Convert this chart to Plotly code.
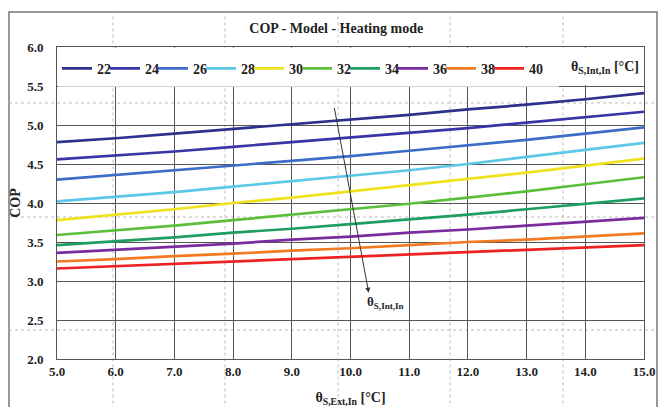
import plotly.graph_objects as go

x_ext = [5, 6, 7, 8, 9, 10, 11, 12, 13, 14, 15]
series_names = ["22", "24", "26", "28", "30", "32", "34", "36", "38", "40"]
cop_22 = [4.78, 4.83, 4.89, 4.95, 5.01, 5.07, 5.13, 5.20, 5.26, 5.33, 5.41]
cop_24 = [4.56, 4.61, 4.66, 4.72, 4.78, 4.84, 4.90, 4.96, 5.03, 5.10, 5.17]
cop_26 = [4.30, 4.36, 4.42, 4.48, 4.54, 4.60, 4.67, 4.74, 4.81, 4.89, 4.97]
cop_28 = [4.02, 4.08, 4.14, 4.21, 4.28, 4.35, 4.42, 4.50, 4.59, 4.68, 4.77]
cop_30 = [3.78, 3.85, 3.92, 4.00, 4.07, 4.15, 4.23, 4.31, 4.39, 4.48, 4.57]
cop_32 = [3.59, 3.65, 3.71, 3.78, 3.85, 3.92, 3.99, 4.07, 4.15, 4.24, 4.33]
cop_34 = [3.46, 3.51, 3.56, 3.62, 3.67, 3.73, 3.79, 3.85, 3.92, 3.99, 4.06]
cop_36 = [3.36, 3.40, 3.44, 3.48, 3.53, 3.57, 3.62, 3.66, 3.71, 3.76, 3.81]
cop_38 = [3.25, 3.28, 3.32, 3.35, 3.39, 3.42, 3.46, 3.50, 3.53, 3.57, 3.61]
cop_40 = [3.16, 3.19, 3.22, 3.25, 3.28, 3.31, 3.34, 3.37, 3.40, 3.43, 3.46]
series_values = [cop_22, cop_24, cop_26, cop_28, cop_30, cop_32, cop_34, cop_36, cop_38, cop_40]
colors = ["#2b318c", "#3a35a6", "#3d6cc8", "#5cc8e6", "#eee21c",
          "#5cbf3c", "#1f9e62", "#7a2c9e", "#f27a22", "#ee2222"]

x_ticks = [5, 6, 7, 8, 9, 10, 11, 12, 13, 14, 15]
y_ticks = [2.0, 2.5, 3.0, 3.5, 4.0, 4.5, 5.0, 5.5, 6.0]

FONT = "Liberation Serif, Times New Roman, serif"
W, H = 650, 399   # page body has an 8px margin
L, R, T, B = 49, 14, 39, 48
PW, PH = W - L - R, H - T - B
fig = go.Figure()
for name, vals, col in zip(series_names, series_values, colors):
    fig.add_trace(go.Scatter(x=x_ext, y=vals, mode="lines", name="<b>" + name + "</b>",
                             line=dict(color=col, width=2.7)))
# invisible spacer entry so the last legend label is not clipped
fig.add_trace(go.Scatter(x=[None], y=[None], mode="lines", name=" ",
                         line=dict(color="rgba(0,0,0,0)", width=0), hoverinfo="skip"))

grid = "#555555"
fig.update_layout(
    width=W, height=H,
    margin=dict(l=L, r=R, t=T, b=B),
    paper_bgcolor="white", plot_bgcolor="white",
    font=dict(family=FONT, size=12, color="#222"),
    title=dict(text="<b>COP - Model - Heating mode</b>", x=0.505, xanchor="center",
               y=1 - 20 / H, yanchor="middle", font=dict(size=14, family=FONT)),
    showlegend=True,
    legend=dict(orientation="h", x=0.0, xanchor="left", y=0.93, yanchor="middle",
                bgcolor="rgba(0,0,0,0)", entrywidth=3, entrywidthmode="pixels",
                font=dict(family=FONT, size=14, color="#222"),
                itemwidth=30, tracegroupgap=0),
    xaxis=dict(range=[5, 15], tickvals=x_ticks, tickformat=".1f", automargin=False,
               showgrid=True, gridcolor=grid, gridwidth=1,
               showline=True, linecolor=grid, linewidth=1, mirror=True,
               ticks="", zeroline=False,
               tickfont=dict(family=FONT, size=13, color="#222", weight="bold"),
               title=dict(text="<b>θ<sub>S,Ext,In</sub> [°C]</b>", standoff=19,
                          font=dict(family=FONT, size=14))),
    yaxis=dict(range=[2, 6], tickvals=y_ticks, tickformat=".1f", automargin=False,
               showgrid=True, gridcolor=grid, gridwidth=1,
               showline=True, linecolor=grid, linewidth=1, mirror=True,
               ticks="", zeroline=False, ticklabelstandoff=10,
               tickfont=dict(family=FONT, size=13, color="#222", weight="bold"),
               title=dict(text="<b>COP</b>", standoff=6,
                          font=dict(family=FONT, size=14))),
)

# white legend box covering the top of the plot area
fig.add_shape(type="rect", xref="x", yref="y", x0=5.02, x1=13.55, y0=5.49, y1=5.99,
              fillcolor="white", line=dict(width=0), layer="above")
fig.add_shape(type="rect", xref="x", yref="y", x0=13.55, x1=14.98, y0=5.51, y1=5.99,
              fillcolor="white", line=dict(width=0), layer="above")

# legend title on the right
fig.add_annotation(xref="x", yref="y", x=14.33, y=5.74, showarrow=False,
                   text="<b>θ<sub>S,Int,In</sub> [°C]</b>",
                   font=dict(family=FONT, size=14, color="#222"))

# arrow showing increasing θS,Int,In
fig.add_annotation(xref="x", yref="y", x=10.31, y=2.85, ax=9.72, ay=5.24,
                   axref="x", ayref="y", showarrow=True, arrowhead=2,
                   arrowsize=1, arrowwidth=1, arrowcolor="#333", text="")
fig.add_annotation(xref="x", yref="y", x=10.6, y=2.72, showarrow=False,
                   text="<b>θ<sub>S,Int,In</sub></b>",
                   font=dict(family=FONT, size=13, color="#222"))

# outer frame
fig.add_shape(type="rect", xref="paper", yref="paper", x0=(1 - L) / PW, x1=(W - 1 - L) / PW,
              y0=-0.2, y1=(PH + T - 4) / PH, line=dict(color="#777", width=1.5),
              fillcolor="rgba(0,0,0,0)", layer="below")

# faint dotted page artefacts
for px in [113, 225, 338, 450, 563]:
    xp = (px - 57) / PW
    fig.add_shape(type="line", xref="paper", yref="paper", x0=xp, x1=xp,
                  y0=-0.2, y1=(PH + T - 4) / PH, line=dict(color="#bbb", width=1, dash="dot"),
                  layer="below")
for py in [103, 217, 330]:
    yp = (359 - py) / PH
    fig.add_shape(type="line", xref="paper", yref="paper", x0=(1 - L) / PW, x1=(W - 1 - L) / PW,
                  y0=yp, y1=yp, line=dict(color="#bbb", width=1, dash="dot"),
                  layer="below")

fig.write_html("out.html")
